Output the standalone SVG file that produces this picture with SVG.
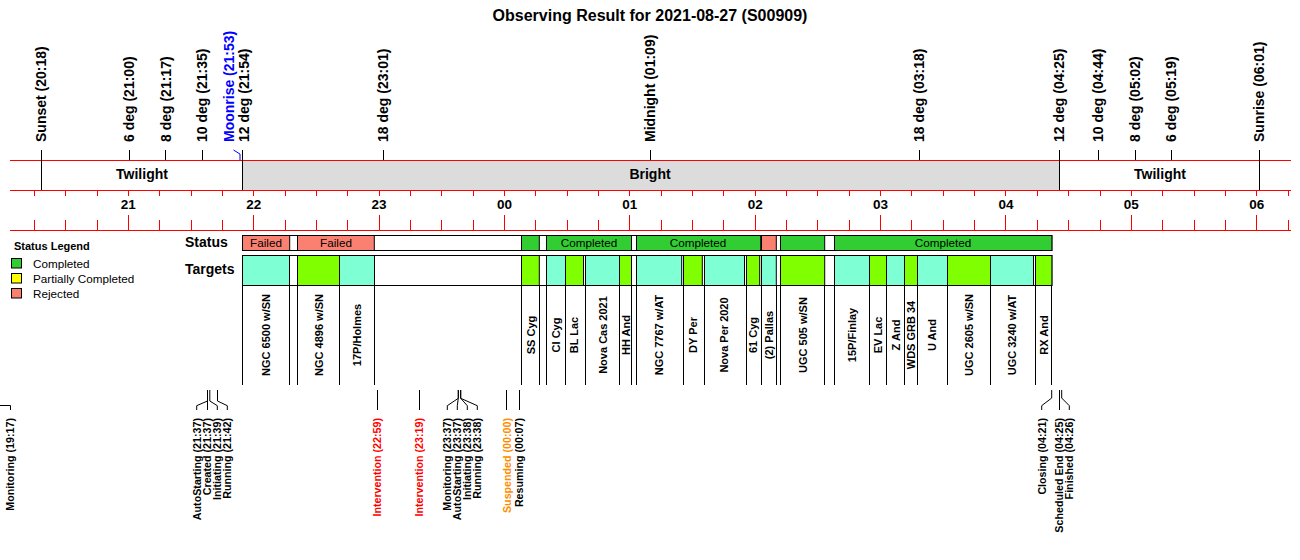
<svg xmlns="http://www.w3.org/2000/svg" width="1300" height="560" viewBox="0 0 1300 560">
<style>
text{font-family:"Liberation Sans",Arial,sans-serif;fill:#000}
.title{font-size:16px;font-weight:bold}
.top{font-size:14px;font-weight:bold}
.band{font-size:14px;font-weight:bold}
.hr{font-size:13.5px;font-weight:bold}
.row{font-size:14px;font-weight:bold}
.st{font-size:11.7px}
.leg{font-size:11.7px}
.legt{font-size:11px;font-weight:bold}
.tg{font-size:11px;font-weight:bold;fill:#0000ff}
.ev{font-size:10.7px;font-weight:bold}
.red{stroke:#ff0000;stroke-width:1;fill:none}
.blk{stroke:#000;stroke-width:1;fill:none}
.cyan{fill:#7fffd4;stroke:#000;stroke-width:1}
.lime{fill:#7fff00;stroke:#000;stroke-width:1}
.green{fill:#32cd32;stroke:#000;stroke-width:1}
.salmon{fill:#fa8072;stroke:#000;stroke-width:1}
</style>
<rect x="0" y="0" width="1300" height="560" fill="#fff"/>
<text class="title" x="650" y="21" text-anchor="middle">Observing Result for 2021-08-27 (S00909)</text>

<g id="band">
<rect x="242.3" y="160.5" width="817" height="30" fill="#dcdcdc"/>
<text class="band" x="142" y="179" text-anchor="middle">Twilight</text>
<text class="band" x="650" y="179" text-anchor="middle">Bright</text>
<text class="band" x="1160" y="179" text-anchor="middle">Twilight</text>
</g>

<g id="axis">
<path class="red" d="M10 160.5H1291M10 190.5H1291M10 230.5H1291"/>
<path class="red" d="M34.5 190V196M65.5 190V196M97.5 190V196M128.5 190V196M159.5 190V196M191.5 190V196M222.5 190V196M253.5 190V196M285.5 190V196M316.5 190V196M347.5 190V196M379.5 190V196M410.5 190V196M441.5 190V196M473.5 190V196M504.5 190V196M535.5 190V196M567.5 190V196M598.5 190V196M629.5 190V196M661.5 190V196M692.5 190V196M723.5 190V196M755.5 190V196M786.5 190V196M817.5 190V196M849.5 190V196M880.5 190V196M911.5 190V196M943.5 190V196M974.5 190V196M1005.5 190V196M1037.5 190V196M1068.5 190V196M1100.5 190V196M1131.5 190V196M1162.5 190V196M1194.5 190V196M1225.5 190V196M1256.5 190V196M1288.5 190V196"/>
<path class="red" d="M34.5 220V230M65.5 220V230M97.5 220V230M159.5 220V230M191.5 220V230M222.5 220V230M285.5 220V230M316.5 220V230M347.5 220V230M410.5 220V230M441.5 220V230M473.5 220V230M535.5 220V230M567.5 220V230M598.5 220V230M661.5 220V230M692.5 220V230M723.5 220V230M786.5 220V230M817.5 220V230M849.5 220V230M911.5 220V230M943.5 220V230M974.5 220V230M1037.5 220V230M1068.5 220V230M1100.5 220V230M1162.5 220V230M1194.5 220V230M1225.5 220V230M1288.5 220V230"/>
<path class="red" d="M128.5 215V230M253.5 215V230M379.5 215V230M504.5 215V230M629.5 215V230M755.5 215V230M880.5 215V230M1005.5 215V230M1131.5 215V230M1256.5 215V230"/>
<g class="hr" text-anchor="middle">
<text x="128.3" y="209">21</text><text x="253.7" y="209">22</text><text x="379.1" y="209">23</text><text x="504.4" y="209">00</text><text x="629.8" y="209">01</text><text x="755.2" y="209">02</text><text x="880.6" y="209">03</text><text x="1006" y="209">04</text><text x="1131.3" y="209">05</text><text x="1256.7" y="209">06</text>
</g>
</g>

<g id="sun-events">
<path class="blk" d="M41.5 150V190M129.5 150V160M165.5 150V160M202.5 150V160M242.5 150V190M383.5 150V160M650.5 150V160M919.5 150V160M1059.5 150V190M1098.5 150V160M1135.5 150V160M1171.5 150V160M1259.5 150V190"/>
<path d="M240 160V154L233.5 150" stroke="#0000ff" fill="none"/>
<g class="top">
<text transform="translate(46.3,142) rotate(-90)">Sunset (20:18)</text>
<text transform="translate(134.3,142) rotate(-90)">6 deg (21:00)</text>
<text transform="translate(170.7,142) rotate(-90)">8 deg (21:17)</text>
<text transform="translate(207.3,142) rotate(-90)">10 deg (21:35)</text>
<text transform="translate(234,142) rotate(-90)" style="fill:#0000ff">Moonrise (21:53)</text>
<text transform="translate(249,142) rotate(-90)">12 deg (21:54)</text>
<text transform="translate(388.3,142) rotate(-90)">18 deg (23:01)</text>
<text transform="translate(655.3,142) rotate(-90)">Midnight (01:09)</text>
<text transform="translate(924.3,142) rotate(-90)">18 deg (03:18)</text>
<text transform="translate(1064.3,142) rotate(-90)">12 deg (04:25)</text>
<text transform="translate(1103.3,142) rotate(-90)">10 deg (04:44)</text>
<text transform="translate(1140.3,142) rotate(-90)">8 deg (05:02)</text>
<text transform="translate(1176.3,142) rotate(-90)">6 deg (05:19)</text>
<text transform="translate(1264.3,142) rotate(-90)">Sunrise (06:01)</text>
</g>
</g>

<g id="legend">
<text class="legt" x="14" y="250">Status Legend</text>
<rect x="11.5" y="258.5" width="10" height="9.5" fill="#32cd32" stroke="#000"/>
<rect x="11.5" y="273.5" width="10" height="9.5" fill="#ffff00" stroke="#000"/>
<rect x="11.5" y="288.5" width="10" height="9.5" fill="#fa8072" stroke="#000"/>
<text class="leg" x="33" y="268">Completed</text>
<text class="leg" x="33" y="283">Partially Completed</text>
<text class="leg" x="33" y="298">Rejected</text>
</g>

<g id="status-row">
<text class="row" x="185" y="246.7">Status</text>
<rect x="242.5" y="235.5" width="809.4" height="15" fill="#fff" stroke="#000"/>
<rect class="salmon" x="242.5" y="235.5" width="47.2" height="15"/>
<rect class="salmon" x="297.5" y="235.5" width="76.8" height="15"/>
<rect class="green" x="521.5" y="235.5" width="17.8" height="15"/>
<rect class="green" x="546.5" y="235.5" width="85" height="15"/>
<rect class="green" x="636.5" y="235.5" width="124.2" height="15"/>
<rect class="salmon" x="761.5" y="235.5" width="14.8" height="15"/>
<rect class="green" x="780.5" y="235.5" width="44.2" height="15"/>
<rect class="green" x="834.5" y="235.5" width="217.4" height="15"/>
<g class="st" text-anchor="middle">
<text x="266" y="246.7">Failed</text>
<text x="336" y="246.7">Failed</text>
<text x="589" y="246.7">Completed</text>
<text x="698" y="246.7">Completed</text>
<text x="943" y="246.7">Completed</text>
</g>
</g>

<g id="targets-row">
<text class="row" x="185" y="274.3">Targets</text>
<rect x="242.5" y="255.5" width="809.4" height="30" fill="#fff" stroke="#000"/>
<rect class="cyan" x="242.5" y="255.5" width="47" height="30"/>
<rect class="lime" x="297.5" y="255.5" width="42" height="30"/>
<rect class="cyan" x="339.5" y="255.5" width="35" height="30"/>
<rect class="lime" x="521.5" y="255.5" width="17.8" height="30"/>
<rect class="cyan" x="546.5" y="255.5" width="19" height="30"/>
<rect class="lime" x="565.5" y="255.5" width="18" height="30"/>
<rect class="cyan" x="585.5" y="255.5" width="34" height="30"/>
<rect class="lime" x="619.5" y="255.5" width="12" height="30"/>
<rect class="cyan" x="636.5" y="255.5" width="45.2" height="30"/>
<rect class="lime" x="683.5" y="255.5" width="18.8" height="30"/>
<rect class="cyan" x="704.5" y="255.5" width="40" height="30"/>
<rect class="lime" x="746.5" y="255.5" width="13.2" height="30"/>
<rect class="cyan" x="761.5" y="255.5" width="14.8" height="30"/>
<rect class="lime" x="780.5" y="255.5" width="44.2" height="30"/>
<rect class="cyan" x="834.5" y="255.5" width="35" height="30"/>
<rect class="lime" x="869.5" y="255.5" width="17" height="30"/>
<rect class="cyan" x="886.5" y="255.5" width="18" height="30"/>
<rect class="lime" x="904.5" y="255.5" width="13" height="30"/>
<rect class="cyan" x="917.5" y="255.5" width="30" height="30"/>
<rect class="lime" x="947.5" y="255.5" width="43" height="30"/>
<rect class="cyan" x="990.5" y="255.5" width="43" height="30"/>
<rect class="lime" x="1035.5" y="255.5" width="16.4" height="30"/>
<path class="blk" d="M242.5 285V385M289.5 285V385M297.5 285V385M339.5 285V385M374.5 285V385M521.5 285V385M539.5 285V385M546.5 285V385M565.5 285V385M585.5 285V385M619.5 285V385M631.5 285V385M636.5 285V385M683.5 285V385M704.5 285V385M746.5 285V385M761.5 285V385M776.5 285V385M780.5 285V385M824.5 285V385M834.5 285V385M869.5 285V385M886.5 285V385M904.5 285V385M917.5 285V385M947.5 285V385M990.5 285V385M1035.5 285V385M1051.5 285V385"/>
<g class="tg" text-anchor="middle">
<text transform="translate(270,335) rotate(-90)">NGC 6500 w/SN</text>
<text transform="translate(322.5,335) rotate(-90)">NGC 4896 w/SN</text>
<text transform="translate(361,335) rotate(-90)">17P/Holmes</text>
<text transform="translate(534.5,335) rotate(-90)">SS Cyg</text>
<text transform="translate(559.8,335) rotate(-90)">CI Cyg</text>
<text transform="translate(578.3,335) rotate(-90)">BL Lac</text>
<text transform="translate(606.5,335) rotate(-90)">Nova Cas 2021</text>
<text transform="translate(629.5,335) rotate(-90)">HH And</text>
<text transform="translate(663,335) rotate(-90)">NGC 7767 w/AT</text>
<text transform="translate(697,335) rotate(-90)">DY Per</text>
<text transform="translate(728.3,335) rotate(-90)">Nova Per 2020</text>
<text transform="translate(757,335) rotate(-90)">61 Cyg</text>
<text transform="translate(772.8,335) rotate(-90)">(2) Pallas</text>
<text transform="translate(806.5,335) rotate(-90)">UGC 505 w/SN</text>
<text transform="translate(856,335) rotate(-90)">15P/Finlay</text>
<text transform="translate(882,335) rotate(-90)">EV Lac</text>
<text transform="translate(899.5,335) rotate(-90)">Z And</text>
<text transform="translate(914.8,335) rotate(-90)">WDS GRB 34</text>
<text transform="translate(936.3,335) rotate(-90)">U And</text>
<text transform="translate(972.8,335) rotate(-90)">UGC 2605 w/SN</text>
<text transform="translate(1015.8,335) rotate(-90)">UGC 3240 w/AT</text>
<text transform="translate(1047.5,335) rotate(-90)">RX And</text>
</g>
</g>

<g id="connectors">
<path class="blk" d="M0 405.5H10.5V410"/>
<path class="blk" d="M207.5 390V401L196.7 405.7V410M207.5 390V410M209.8 390V401L217.3 405.7V410M217.5 390V401L227.3 405.7V410"/>
<path class="blk" d="M377.5 390V410M419.5 390V410"/>
<path class="blk" d="M458.3 390V398.3L447.3 405.7V410M458.3 390V398.3L457.3 405.7V410M460.7 390V398.3L467.3 405.7V410M460.7 390V398.3L477.3 405.7V410"/>
<path class="blk" d="M506.5 390V410M519.5 390V410"/>
<path class="blk" d="M1051.7 390V398L1041.7 405.7V410M1059.5 390V410M1061.7 390V398L1069.3 405.7V410"/>
</g>

<g id="events" class="ev" text-anchor="end">
<text transform="translate(14,418) rotate(-90)">Monitoring (19:17)</text>
<text transform="translate(200.7,418) rotate(-90)">AutoStarting (21:37)</text>
<text transform="translate(211.3,418) rotate(-90)">Created (21:37)</text>
<text transform="translate(221.3,418) rotate(-90)">Initiating (21:39)</text>
<text transform="translate(231.3,418) rotate(-90)">Running (21:42)</text>
<text transform="translate(381.3,418) rotate(-90)" style="fill:#ff0000">Intervention (22:59)</text>
<text transform="translate(423.3,418) rotate(-90)" style="fill:#ff0000">Intervention (23:19)</text>
<text transform="translate(451.3,418) rotate(-90)">Monitoring (23:37)</text>
<text transform="translate(461.3,418) rotate(-90)">AutoStarting (23:37)</text>
<text transform="translate(471.3,418) rotate(-90)">Initiating (23:38)</text>
<text transform="translate(481.3,418) rotate(-90)">Running (23:38)</text>
<text transform="translate(510.7,418) rotate(-90)" style="fill:#ff8c00">Suspended (00:00)</text>
<text transform="translate(523.3,418) rotate(-90)">Resuming (00:07)</text>
<text transform="translate(1045.7,418) rotate(-90)">Closing (04:21)</text>
<text transform="translate(1063.3,418) rotate(-90)">Scheduled End (04:25)</text>
<text transform="translate(1073.3,418) rotate(-90)">Finished (04:26)</text>
</g>
</svg>
